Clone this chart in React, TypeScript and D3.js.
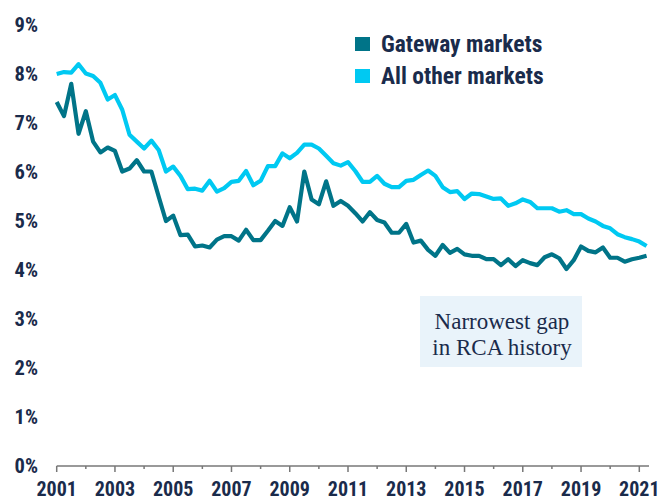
import React from 'react';
import * as d3 from 'd3';

// quarterly cap rates, 2001 Q1 .. 2021 Q2
const gateway = [
  7.43, 7.14, 7.8, 6.78, 7.24, 6.62, 6.4, 6.5, 6.43, 6.01,
  6.07, 6.24, 6.01, 6.01, 5.5, 5.0, 5.11, 4.71, 4.72, 4.48,
  4.5, 4.46, 4.62, 4.69, 4.69, 4.6, 4.82, 4.61, 4.61, 4.8,
  5.0, 4.9, 5.28, 4.99, 6.01, 5.44, 5.34, 5.81, 5.31, 5.41,
  5.31, 5.16, 4.99, 5.18, 5.02, 4.97, 4.76, 4.76, 4.94, 4.56,
  4.6, 4.41, 4.29, 4.51, 4.35, 4.43, 4.32, 4.29, 4.29, 4.22,
  4.22, 4.1, 4.22, 4.08, 4.2, 4.14, 4.1, 4.26, 4.32, 4.24,
  4.02, 4.2, 4.48, 4.39, 4.36, 4.46, 4.25, 4.25, 4.17, 4.22,
  4.25, 4.29,
];
const otherMarkets = [
  8.0, 8.04, 8.03, 8.2, 8.01, 7.96, 7.82, 7.48, 7.57, 7.27,
  6.76, 6.62, 6.48, 6.64, 6.45, 6.01, 6.11, 5.92, 5.65, 5.66,
  5.62, 5.82, 5.6, 5.67, 5.8, 5.82, 6.02, 5.73, 5.82, 6.12,
  6.12, 6.38, 6.28, 6.39, 6.56, 6.56, 6.48, 6.33, 6.18, 6.13,
  6.2, 6.02, 5.8, 5.8, 5.92, 5.76, 5.69, 5.69, 5.82, 5.84,
  5.94, 6.03, 5.92, 5.69, 5.59, 5.61, 5.45, 5.56, 5.55, 5.5,
  5.45, 5.46, 5.31, 5.36, 5.44, 5.39, 5.26, 5.26, 5.26, 5.19,
  5.22, 5.14, 5.14, 5.05, 4.99, 4.9, 4.85, 4.73, 4.67, 4.63,
  4.58, 4.49,
];
const quarters = gateway.map((_, i) => 2001 + i / 4);
const yearTicks = d3.range(2001, 2022);
const yearLabels = [2001, 2003, 2005, 2007, 2009, 2011, 2013, 2015, 2017, 2019, 2021];
const pctTicks = [0, 1, 2, 3, 4, 5, 6, 7, 8, 9];
const seriesNames = ['Gateway markets', 'All other markets'];
const noteLines = ['Narrowest gap', 'in RCA history'];

const DARK = '#007488';
const LIGHT = '#00c9f2';
const NAVY = '#1a2b4b';
const SANS = "'Liberation Sans Narrow', 'Roboto Condensed', 'DejaVu Sans Condensed', 'Liberation Sans', sans-serif";
const SERIF = "'Liberation Serif', 'DejaVu Serif', serif";

export default function App() {
  const x = d3.scaleLinear().domain([2001, 2021]).range([56.7, 639.3]);
  const y = d3.scaleLinear().domain([0, 9]).range([466, 25]);

  const line = d3.line<number>()
    .x((_, i) => x(quarters[i]))
    .y(d => y(d));

  return (
    <svg width={670} height={503} style={{ position: 'absolute', left: 0, top: 0, background: '#fff' }}>
      {/* y labels */}
      {pctTicks.map(t => (
        <text key={t} x={38} y={y(t)} dy="0.36em" textAnchor="end"
          fontFamily={SANS} fontWeight="bold" fontSize={20.5} fill={NAVY}>
          {t}%
        </text>
      ))}

      {/* x axis */}
      <line x1={x(2001)} x2={649} y1={466} y2={466} stroke="#777" strokeWidth={1.5} />
      {yearTicks.map(t => (
        <line key={t} x1={x(t)} x2={x(t)} y1={466}
          y2={yearLabels.includes(t) ? 472 : 469} stroke="#777" strokeWidth={1.5} />
      ))}
      {yearLabels.map(t => (
        <text key={t} x={x(t)} y={496} textAnchor="middle"
          fontFamily={SANS} fontWeight="bold" fontSize={20} fill={NAVY}>
          {t}
        </text>
      ))}

      {/* lines */}
      <path d={line(otherMarkets) || ''} fill="none" stroke={LIGHT} strokeWidth={4.2} strokeLinejoin="round" />
      <path d={line(gateway) || ''} fill="none" stroke={DARK} strokeWidth={4.2} strokeLinejoin="round" />

      {/* legend */}
      {seriesNames.map((name, i) => (
        <g key={name} transform={`translate(355, ${37 + i * 32})`}>
          <rect x={0} y={0} width={15} height={14} fill={i === 0 ? DARK : LIGHT} />
          <text x={26} y={15} fontFamily={SANS} fontWeight="bold" fontSize={23.5} fill={NAVY}>
            {name}
          </text>
        </g>
      ))}

      {/* annotation */}
      <rect x={420} y={296} width={162} height={71} fill="#e9f3fa" />
      {noteLines.map((l, i) => (
        <text key={l} x={502} y={329 + i * 26} textAnchor="middle"
          fontFamily={SERIF} fontSize={23} fill={NAVY}>
          {l}
        </text>
      ))}
    </svg>
  );
}
